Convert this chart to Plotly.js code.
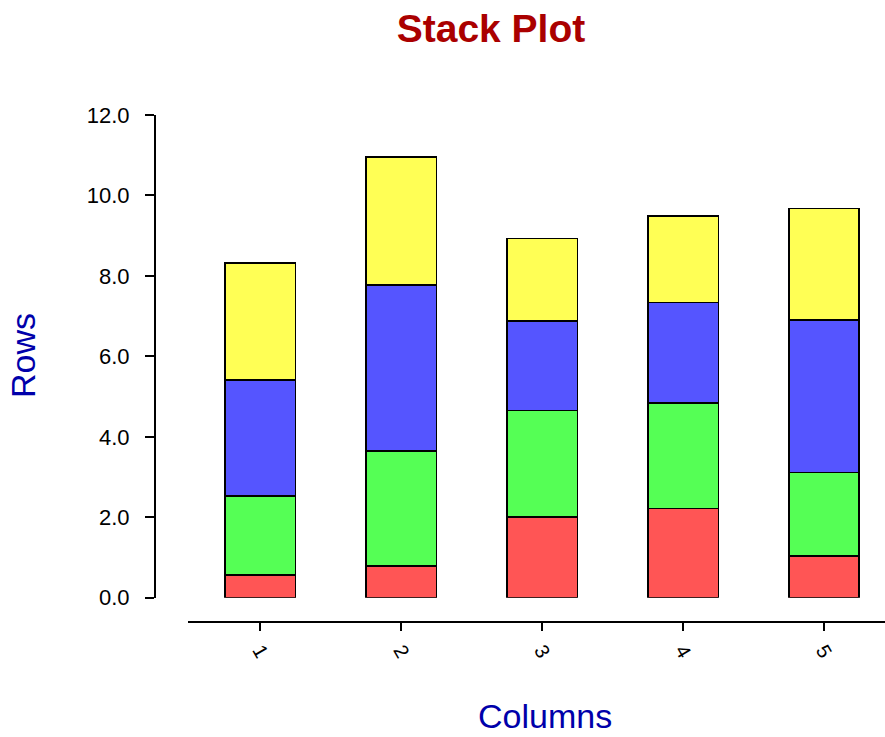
<!DOCTYPE html>
<html>
<head>
<meta charset="utf-8">
<script src="https://cdn.plot.ly/plotly-3.0.1.min.js"></script>
<style>html,body{margin:0;padding:0;background:#fff;}#chart{width:885px;height:737px;}</style>
</head>
<body>
<div id="chart"></div>
<script>
const categories = [1, 2, 3, 4, 5];
const tickLabels = ["1", "2", "3", "4", "5"];
const redValues = [0.56, 0.79, 2.00, 2.22, 1.03];
const greenValues = [1.97, 2.86, 2.65, 2.62, 2.08];
const blueValues = [2.88, 4.13, 2.23, 2.50, 3.79];
const yellowValues = [2.91, 3.18, 2.05, 2.15, 2.78];
const yTickVals = [0, 2, 4, 6, 8, 10, 12];

const seriesList = [
  {name: "Row 1", values: redValues, color: "#ff5555"},
  {name: "Row 2", values: greenValues, color: "#55ff55"},
  {name: "Row 3", values: blueValues, color: "#5555ff"},
  {name: "Row 4", values: yellowValues, color: "#ffff55"}
];

const FONT = "Liberation Sans, Arial, Helvetica, sans-serif";

const traces = seriesList.map(s => ({
  type: "bar",
  name: s.name,
  x: categories,
  y: s.values,
  width: 0.5,
  marker: {color: s.color, line: {color: "#000000", width: 1.6}},
  hoverinfo: "none"
}));

const W = 885, H = 737;
const mL = 155, mR = 0, mT = 115, mB = 115;
const pw = W - mL - mR, ph = H - mT - mB;

const layout = {
  width: W, height: H,
  margin: {l: mL, r: mR, t: mT, b: mB, pad: 0},
  paper_bgcolor: "#ffffff",
  plot_bgcolor: "rgba(0,0,0,0)",
  barmode: "stack",
  showlegend: false,
  font: {family: FONT, color: "#000000"},
  title: {
    text: "<b>Stack Plot</b>",
    font: {family: FONT, size: 39, color: "#aa0000"},
    x: 491 / W, xref: "container", xanchor: "center",
    y: 1 - 28 / H, yref: "container", yanchor: "middle"
  },
  xaxis: {
    domain: [(188 - mL) / pw, 1],
    anchor: "free", position: 0,
    range: [0.486, 5.433],
    tickmode: "array", tickvals: categories, ticktext: tickLabels,
    tickangle: 60,
    ticks: "outside", ticklen: 8, tickwidth: 2, tickcolor: "#000",
    showline: true, linecolor: "#000", linewidth: 2,
    showgrid: false, zeroline: false,
    tickfont: {family: FONT, size: 20, color: "#000"}
  },
  yaxis: {
    domain: [(622 - 597.7) / ph, 1],
    anchor: "free", position: 0,
    range: [0, 12],
    tickmode: "array", tickvals: yTickVals,
    tickformat: ".1f",
    ticks: "outside", ticklen: 9, tickwidth: 2, tickcolor: "#000",
    ticklabelstandoff: 11,
    showline: true, linecolor: "#000", linewidth: 2,
    showgrid: false, zeroline: false,
    tickfont: {family: FONT, size: 22, color: "#000"}
  },
  annotations: [
    {
      text: "Rows", showarrow: false, textangle: -90,
      xref: "paper", yref: "paper",
      x: (23 - mL) / pw, y: (622 - 356) / ph,
      xanchor: "center", yanchor: "middle",
      font: {family: FONT, size: 34, color: "#0000aa"}
    },
    {
      text: "Columns", showarrow: false,
      xref: "paper", yref: "paper",
      x: (545 - mL) / pw, y: (622 - 716) / ph,
      xanchor: "center", yanchor: "middle",
      font: {family: FONT, size: 34, color: "#0000aa"}
    }
  ]
};

Plotly.newPlot("chart", traces, layout, {staticPlot: true, displayModeBar: false});
</script>
</body>
</html>
